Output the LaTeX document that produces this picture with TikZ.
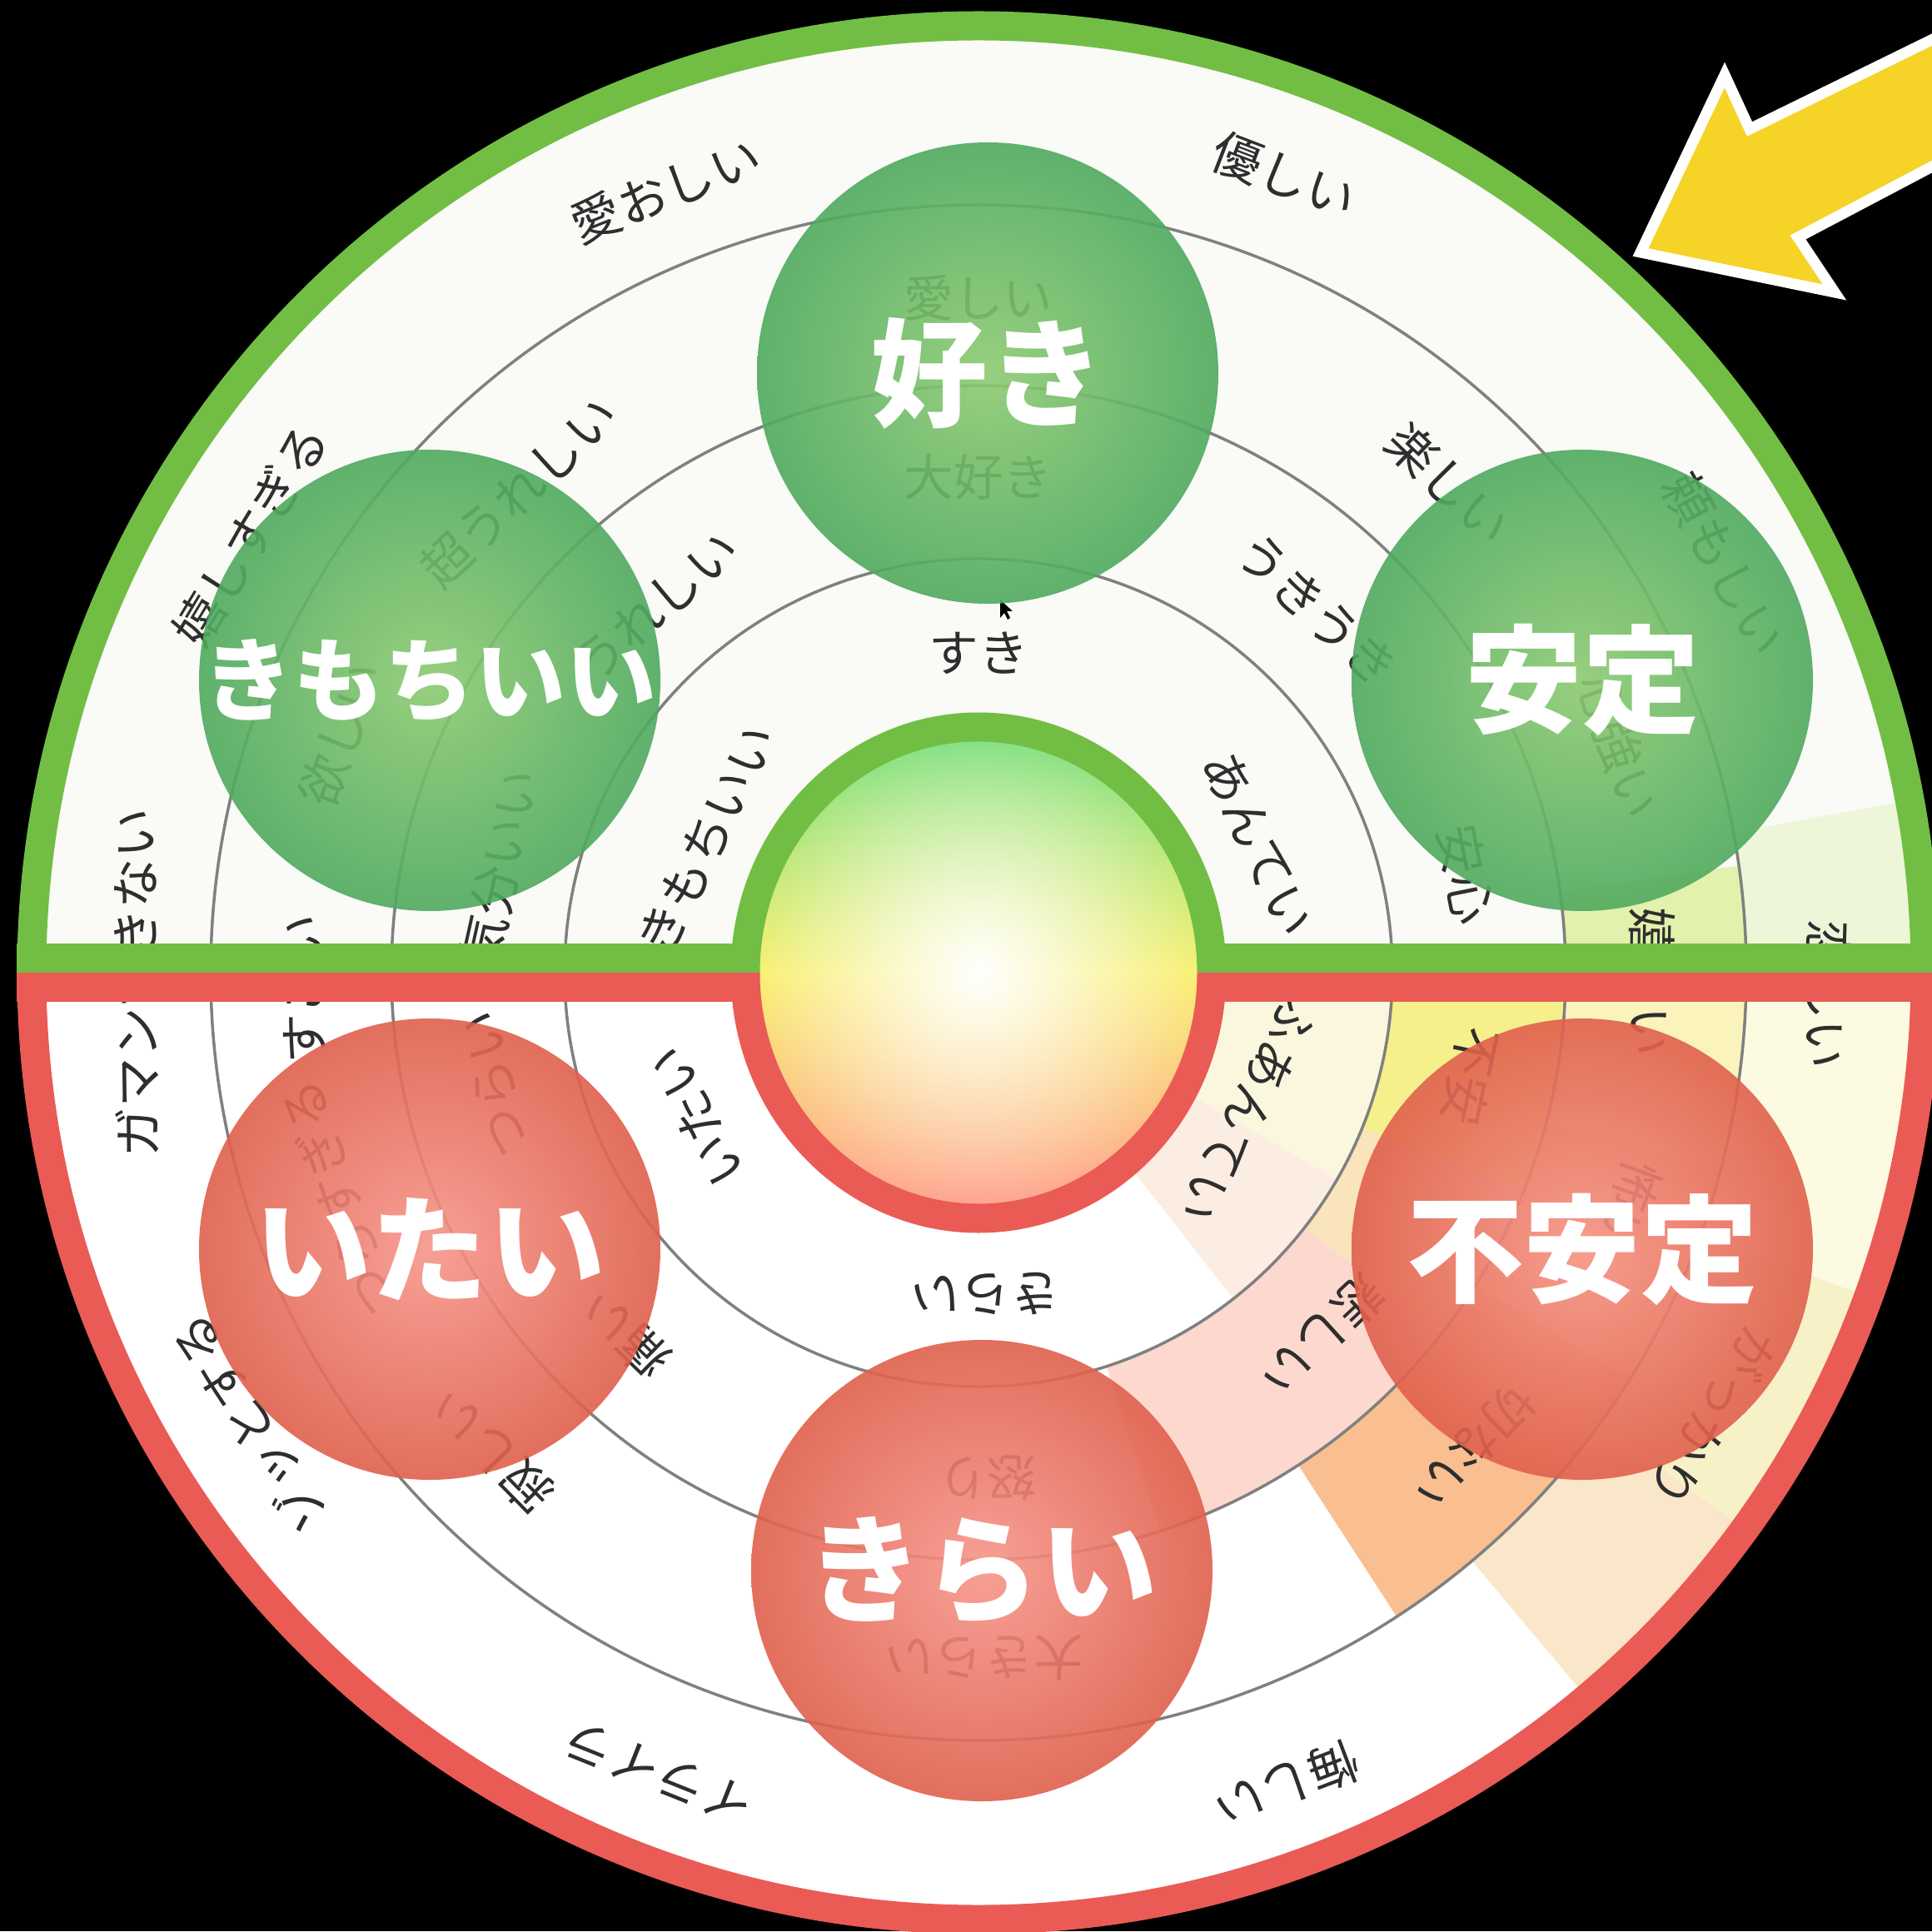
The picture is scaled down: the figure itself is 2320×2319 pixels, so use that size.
\documentclass[tikz,border=0pt]{standalone}
\usepackage{fontspec}
\newfontfamily\jp{Noto Sans CJK JP}
\usetikzlibrary{fadings}

\definecolor{rimgreen}{HTML}{72BE44}
\definecolor{rimred}{HTML}{EA5B56}
\definecolor{wheelbg}{HTML}{FAFAF7}
\definecolor{ringgray}{HTML}{808080}
\definecolor{wordgray}{HTML}{2E2E2E}
\definecolor{goodin}{HTML}{8DCB72}
\definecolor{goodout}{HTML}{4FAA5E}
\definecolor{badin}{HTML}{F7968B}
\definecolor{badout}{HTML}{E0604C}
\definecolor{arrowyellow}{HTML}{F5D327}
\definecolor{coregreen}{HTML}{76DE80}
\definecolor{coreyellow}{HTML}{F9F06C}
\definecolor{corered}{HTML}{FF9A8C}
\definecolor{palecream}{HTML}{FAF7DE}
\definecolor{palepeach}{HTML}{FCEDE3}
\definecolor{lemon}{HTML}{F6F08C}
\definecolor{apricot}{HTML}{F9E4BC}
\definecolor{blush}{HTML}{FDD8CF}
\definecolor{limemist}{HTML}{E2F1AC}
\definecolor{butter}{HTML}{FAF4BC}
\definecolor{sand}{HTML}{F8DFA4}
\definecolor{tangerine}{HTML}{F9BF90}
\definecolor{mintmist}{HTML}{EEF6DA}
\definecolor{cream}{HTML}{FDFAE2}
\definecolor{straw}{HTML}{F7F1C8}
\definecolor{bisque}{HTML}{FAE6C8}

\tikzfading[name=glow, inner color=transparent!0, outer color=transparent!100]

% colour, from angle, to angle, inner radius, outer radius
\newcommand{\band}[5]{%
  \fill[#1] (#2:#4) arc[start angle=#2, end angle=#3, radius=#4]
    -- (#3:#5) arc[start angle=#3, end angle=#2, radius=#5] -- cycle;}

\tikzset{
  word/.style={font=\jp\fontsize{17}{17}\selectfont, text=wordgray, inner sep=0pt},
  ball/.style={circle, minimum size=55.4mm, inner sep=0pt, shading=radial,
    fill opacity=0.9, text opacity=1, text=white,
    font=\jp\bfseries\fontsize{40}{40}\selectfont},
  goodball/.style={ball, inner color=goodin, outer color=goodout},
  badball/.style={ball, inner color=badin, outer color=badout},
}

\begin{document}
\begin{tikzpicture}[x=0.1mm, y=0.1mm]
\useasboundingbox (-1175,-1151) rectangle (1145,1168);
\fill[black] (-1175,-1151) rectangle (1145,1168);

% wheel
\fill[wheelbg] (1137,0) arc[start angle=0, end angle=180, radius=1137] -- cycle;
\fill[white] (-1137,0) arc[start angle=180, end angle=360, radius=1137] -- cycle;

% pale patches
\band{palecream}{-30}{0}{280}{497}
\band{palepeach}{-52}{-30}{280}{497}
\band{lemon}{-22}{0}{497}{705}
\band{apricot}{-38}{-22}{497}{705}
\band{blush}{-72}{-38}{497}{705}
\band{limemist}{0}{8}{705}{922}
\band{butter}{-15}{0}{705}{922}
\band{sand}{-32}{-15}{705}{922}
\band{tangerine}{-57}{-32}{705}{922}
\band{mintmist}{0}{10.5}{922}{1137}
\band{cream}{-20}{0}{922}{1137}
\band{straw}{-36}{-20}{922}{1137}
\band{bisque}{-50}{-36}{922}{1137}

\foreach \dist in {497,705,922}
  \draw[ringgray, line width=0.35mm] (0,0) circle[radius=\dist];

% words round the wheel
\foreach \ang/\dist/\word [count=\i] in {
  111.8/1012/愛おしい, 69/1025/優しい, 149/1020/嬉しすぎる, 28.7/1021/頼もしい,
  180.7/1012/ガマンできない, -1.5/1020/恋しい, 211.8/1030/ゾッとする,
  248.2/1035/イライラ, 290.8/1043/悔しい, 328.8/1032/がっかり,
  90/810/愛しい, 133.7/799/超うれしい, 159.4/817/欲しい, 181.4/813/すごい,
  199.5/815/つらすぎる, 224.5/820/寂しい, 270.5/823/大きらい, 316.3/823/切ない,
  340/831/怖い, 359.2/808/嬉しい, 19.5/816/心強い, 46.1/815/楽しい,
  90/595/大好き, 131.3/586/うれしい, 167.5/589/気分いい, 47/596/うきうき,
  11.4/597/安心, 348.1/604/不安, 313.5/601/悲しい, 271/608/怒り,
  225.7/608/痛い, 193/596/つらい,
  90/384/すき, 153.9/363/きもちいい, 24.8/370/あんてい, 207/381/いたい,
  333.1/364/ふあんてい, 271.3/386/きらい}
  \node[word, rotate=\ang-90] (w\i) at (\ang:\dist) {\word};

% pointer
\fill[black] (26,448) -- (26,426) -- (31,432) -- (35,424) -- (38,426) -- (34,434) -- (41,434) -- cycle;

% feeling balls
\node[goodball] (suki) at (11,720) {好き};
\node[goodball] (antei) at (725,351) {安定};
\node[goodball, inner sep=-20pt, font=\jp\bfseries\fontsize{31}{31}\selectfont] (kimochi) at (-659,351) {きもちいい};
\node[badball] (itai) at (-659,-332) {いたい};
\node[badball] (fuantei) at (725,-332) {不安定};
\node[badball] (kirai) at (4,-718) {きらい};

% rim
\draw[rimgreen, line width=3.5mm] (1137,0) arc[start angle=0, end angle=180, radius=1137];
\draw[rimred, line width=3.5mm] (-1137,0) arc[start angle=180, end angle=360, radius=1137];
\fill[rimgreen] (-1155,0) rectangle (-285,35);
\fill[rimgreen] (285,0) rectangle (1155,35);
\fill[rimred] (-1155,0) rectangle (-285,-35);
\fill[rimred] (285,0) rectangle (1155,-35);

% core
\shade[top color=coregreen, bottom color=corered, middle color=coreyellow]
  (0,0) ellipse[x radius=280, y radius=295];
\fill[white, path fading=glow] (0,0) ellipse[x radius=280, y radius=295];
\draw[rimgreen, line width=3.5mm] (280,0) arc[start angle=0, end angle=180, x radius=280, y radius=295];
\draw[rimred, line width=3.5mm] (-280,0) arc[start angle=180, end angle=360, x radius=280, y radius=295];

% arrow
\draw[white, line width=1.3mm, fill=arrowyellow, line join=miter]
  (795,865) -- (896,1078) -- (926,1013) -- (1185,1140) -- (1185,989)
  -- (984,883) -- (1028,817) -- cycle;
\end{tikzpicture}
\end{document}
